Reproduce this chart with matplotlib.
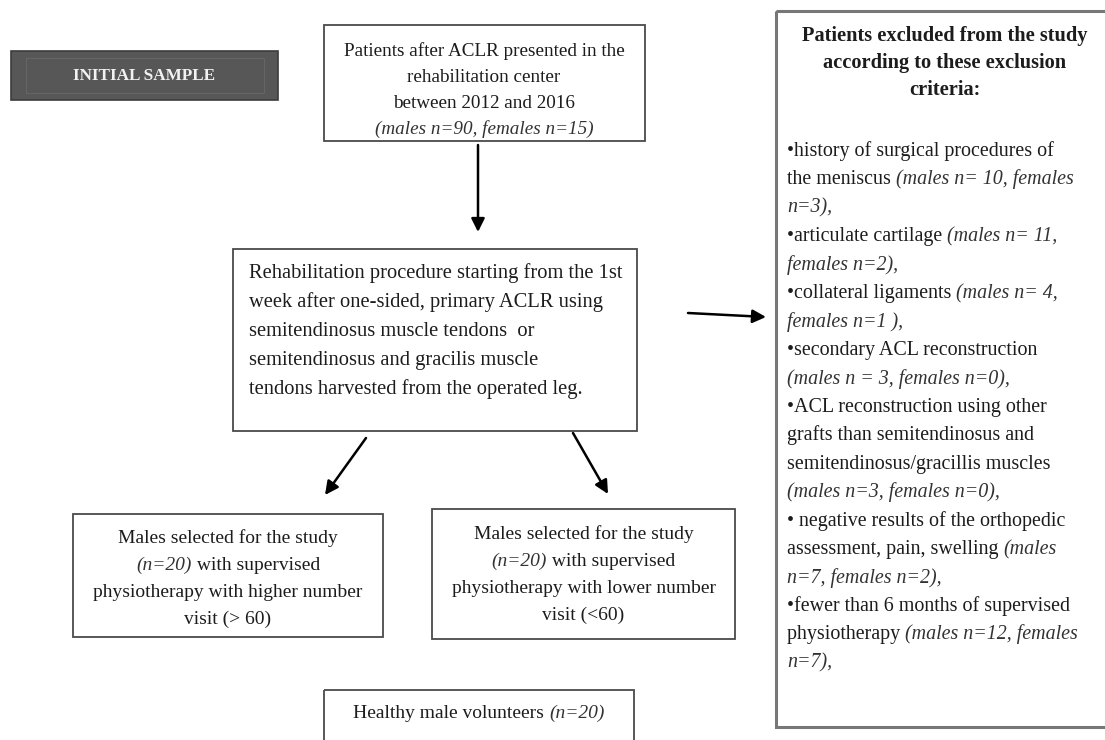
import matplotlib
matplotlib.use('Agg')
import matplotlib.pyplot as plt
from matplotlib.patches import Rectangle

# ---------------- data (texts; '*' toggles italic) ----------------
initial_label = "INITIAL SAMPLE"
top_lines = ["Patients after ACLR presented in the",
             "rehabilitation center",
             "between 2012 and 2016",
             "*(males n=90, females n=15)*"]
middle_lines = ["Rehabilitation procedure starting from the 1st",
                "week after one-sided, primary ACLR using",
                "semitendinosus muscle tendons  or",
                "semitendinosus and gracilis muscle",
                "tendons harvested from the operated leg."]
left_lines = ["Males selected for the study",
              "*(n=20)* with supervised",
              "physiotherapy with higher number",
              "visit (> 60)"]
right_lines = ["Males selected for the study",
               "*(n=20)* with supervised",
               "physiotherapy with lower number",
               "visit (<60)"]
healthy_lines = ["Healthy male volunteers *(n=20)*"]
excl_header = ["Patients excluded from the study",
               "according to these exclusion",
               "criteria:"]
excl_lines = ["\u2022history of surgical procedures of",
              "the meniscus *(males n= 10, females*",
              "*n=3),*",
              "\u2022articulate cartilage *(males n= 11,*",
              "*females n=2),*",
              "\u2022collateral ligaments *(males n= 4,*",
              "*females n=1 ),*",
              "\u2022secondary ACL reconstruction",
              "*(males n = 3, females n=0),*",
              "\u2022ACL reconstruction using other",
              "grafts than semitendinosus and",
              "semitendinosus/gracillis muscles",
              "*(males n=3, females n=0),*",
              "\u2022 negative results of the orthopedic",
              "assessment, pain, swelling *(males*",
              "*n=7, females n=2),*",
              "\u2022fewer than 6 months of supervised",
              "physiotherapy *(males n=12, females*",
              "*n=7),*"]

# ---------------- canvas ----------------
W, H = 1105, 740
fig = plt.figure(figsize=(W / 100, H / 100), dpi=100)
ax = fig.add_axes([0, 0, 1, 1])
ax.set_xlim(0, W)
ax.set_ylim(H, 0)
ax.axis('off')
renderer = fig.canvas.get_renderer()

SERIF = 'Liberation Serif'
TXT = '#1c1c1c'
ITXT = '#333333'


def seg_width(s, italic, weight, size):
    st = 'italic' if italic else 'normal'
    t1 = ax.text(0, 0, 'x' + s + 'x', fontsize=size, family=SERIF, style=st, weight=weight)
    t2 = ax.text(0, 0, 'xx', fontsize=size, family=SERIF, style=st, weight=weight)
    w = t1.get_window_extent(renderer).width - t2.get_window_extent(renderer).width
    t1.remove()
    t2.remove()
    return w


def draw_line(x, yc, markup, size=14.0, weight='normal', ha='left', color=TXT):
    parts = markup.split('*')
    segs = [(p, i % 2 == 1) for i, p in enumerate(parts) if p]
    widths = [seg_width(p, it, weight, size) for p, it in segs]
    total = sum(widths)
    x0 = x - total / 2 if ha == 'center' else x
    base = yc + 0.30 * size * 100 / 72
    for (p, it), w in zip(segs, widths):
        ax.text(x0, base, p, fontsize=size, family=SERIF,
                style='italic' if it else 'normal', weight=weight,
                color=(ITXT if it else color), va='baseline', ha='left')
        x0 += w


def box(x0, y0, x1, y1, ec='#4a4a4a', lw=1.3, fc='none', z=1):
    ax.add_patch(Rectangle((x0, y0), x1 - x0, y1 - y0, fill=(fc != 'none'),
                           facecolor=fc, edgecolor=ec, lw=lw, zorder=z))


def arrow(x0, y0, x1, y1):
    ax.annotate('', xy=(x1, y1), xytext=(x0, y0),
                arrowprops=dict(arrowstyle='-|>', color='black', lw=1.8,
                                mutation_scale=20, shrinkA=0, shrinkB=0))


# INITIAL SAMPLE
box(11, 51, 278, 100, ec='#3c3c3c', lw=1.2, fc='#575757')
ax.add_patch(Rectangle((26, 58), 238, 35, fill=False, edgecolor='#666666', lw=0.7))
draw_line(144.5, 75, initial_label, size=12.3, weight='bold', ha='center', color='#f2f2f2')

# top box
box(324, 25, 645, 141)
for i, s in enumerate(top_lines):
    draw_line(484, 50 + 26 * i, s, size=13.8, ha='center')
arrow(478, 145, 478, 232)

# middle box
box(233, 249, 637, 431)
for i, s in enumerate(middle_lines):
    draw_line(249, 272 + 29 * i, s, size=14.8)

arrow(366, 438, 325, 495)
arrow(573, 433, 608, 494)
arrow(688, 313, 766, 317)

# bottom boxes
box(73, 514, 383, 637)
for i, s in enumerate(left_lines):
    draw_line(228, 537 + 27 * i, s, size=14.0, ha='center')
box(432, 509, 735, 639)
for i, s in enumerate(right_lines):
    draw_line(583.5, 533 + 27 * i, s, size=14.0, ha='center')
box(324, 690, 634, 760)
for s in healthy_lines:
    draw_line(479, 712, s, size=14.0, ha='center')

# exclusion box
box(776, 11, 1120, 727, ec='#777777', lw=2.2)
for i, s in enumerate(excl_header):
    draw_line(945, 35 + 27 * i, s, size=14.7, weight='bold', ha='center')
for i, s in enumerate(excl_lines):
    draw_line(787, 150 + 28.44 * i, s, size=14.4)

fig.savefig('out.png', dpi=100)
